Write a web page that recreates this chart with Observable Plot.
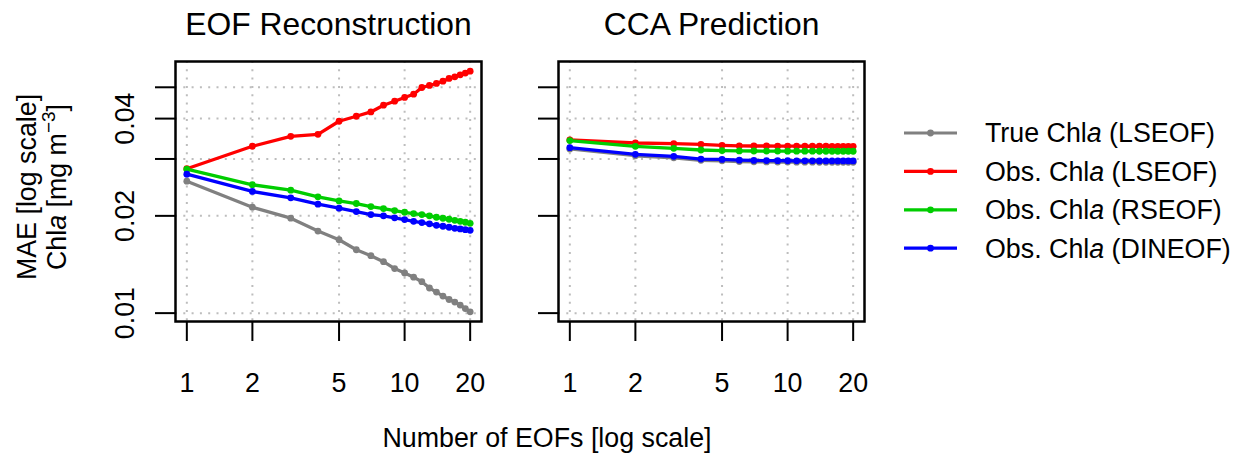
<!DOCTYPE html>
<html>
<head>
<meta charset="utf-8">
<script src="https://cdn.jsdelivr.net/npm/d3@7"></script>
<script src="https://cdn.jsdelivr.net/npm/@observablehq/plot@0.6"></script>
<style>
  html, body { margin: 0; padding: 0; background: #fff; }
  #chart { width: 1243px; height: 458px; }
</style>
</head>
<body>
<div id="chart"></div>
<script>
// ---------------- data ----------------
const nEOFs = [1, 2, 3, 4, 5, 6, 7, 8, 9, 10, 11, 12, 13, 14, 15, 16, 17, 18, 19, 20];
const panels = ["EOF Reconstruction", "CCA Prediction"];
const seriesNames = ["True Chla (LSEOF)", "Obs. Chla (LSEOF)", "Obs. Chla (RSEOF)", "Obs. Chla (DINEOF)"];
const seriesColors = ["#808080", "#FF0000", "#00CD00", "#0000FF"];
const xTicks = [1, 2, 5, 10, 20];
const yTicks = [0.01, 0.02, 0.03, 0.04, 0.05];
const yTickLabels = [0.01, 0.02, 0.04];

// EOF Reconstruction panel
const eofTrueLSEOF   = [0.02561, 0.02127, 0.01967, 0.01795, 0.01687, 0.01571, 0.01506, 0.01443, 0.01374, 0.01331, 0.01292, 0.01251, 0.01196, 0.01162, 0.01129, 0.01102, 0.01082, 0.01059, 0.01033, 0.01009];
const eofObsLSEOF    = [0.02798, 0.03284, 0.03526, 0.03577, 0.03925, 0.04067, 0.04194, 0.04400, 0.04528, 0.04650, 0.04760, 0.04993, 0.05065, 0.05138, 0.05224, 0.05326, 0.05387, 0.05465, 0.05532, 0.05610];
const eofObsRSEOF    = [0.02790, 0.02496, 0.02402, 0.02291, 0.02225, 0.02184, 0.02137, 0.02107, 0.02077, 0.02052, 0.02033, 0.02019, 0.02000, 0.01980, 0.01966, 0.01952, 0.01938, 0.01924, 0.01911, 0.01897];
const eofObsDINEOF   = [0.02692, 0.02380, 0.02275, 0.02173, 0.02112, 0.02062, 0.02019, 0.02000, 0.01972, 0.01948, 0.01924, 0.01906, 0.01889, 0.01870, 0.01857, 0.01844, 0.01830, 0.01822, 0.01813, 0.01804];

// CCA Prediction panel
const ccaTrueLSEOF   = [0.03222, 0.03070, 0.03026, 0.02970, 0.02962, 0.02946, 0.02940, 0.02937, 0.02935, 0.02934, 0.02933, 0.02932, 0.02932, 0.02931, 0.02931, 0.02931, 0.02930, 0.02930, 0.02930, 0.02930];
const ccaObsLSEOF    = [0.03434, 0.03361, 0.03347, 0.03330, 0.03306, 0.03295, 0.03290, 0.03290, 0.03288, 0.03287, 0.03286, 0.03285, 0.03285, 0.03284, 0.03284, 0.03283, 0.03283, 0.03283, 0.03282, 0.03282];
const ccaObsRSEOF    = [0.03420, 0.03283, 0.03236, 0.03198, 0.03184, 0.03177, 0.03175, 0.03174, 0.03173, 0.03172, 0.03172, 0.03171, 0.03171, 0.03170, 0.03170, 0.03170, 0.03169, 0.03169, 0.03169, 0.03169];
const ccaObsDINEOF   = [0.03252, 0.03100, 0.03056, 0.02998, 0.02991, 0.02975, 0.02968, 0.02965, 0.02963, 0.02962, 0.02961, 0.02960, 0.02960, 0.02959, 0.02959, 0.02959, 0.02958, 0.02958, 0.02958, 0.02958];

const xLabel = "Number of EOFs [log scale]";
const yLabel1 = "MAE [log scale]";

// ---------------- build table ----------------
const panelSeries = [
  [eofTrueLSEOF, eofObsLSEOF, eofObsRSEOF, eofObsDINEOF],
  [ccaTrueLSEOF, ccaObsLSEOF, ccaObsRSEOF, ccaObsDINEOF]
];
const rows = [];
panelSeries.forEach((set, p) => set.forEach((vals, s) => vals.forEach((v, i) =>
  rows.push({panel: panels[p], series: seriesNames[s], n: nEOFs[i], value: v}))));

// ---------------- layout ----------------
const FONT = "'Liberation Sans', Arial, Helvetica, sans-serif";
const FS = 26.8;
const W = 1243, H = 458;
const ML = 174, MR = 378, MT = 61, MB = 137;
const logExpand = ([a, b]) => {
  const la = Math.log10(a), lb = Math.log10(b), d = (lb - la) * 0.04;
  return [10 ** (la - d), 10 ** (lb + d)];
};
const gridStyle = {stroke: "#bdbdbd", strokeOpacity: 1, strokeWidth: 2, strokeDasharray: "2,6.3"};

const seriesMarks = seriesNames.flatMap((name, s) => {
  const sub = rows.filter(d => d.series === name);
  return [
    Plot.line(sub, {fx: "panel", x: "n", y: "value", stroke: seriesColors[s], strokeWidth: 3.3}),
    Plot.dot(sub, {fx: "panel", x: "n", y: "value", fill: seriesColors[s], r: 3.4})
  ];
});

const svg = Plot.plot({
  width: W, height: H,
  marginLeft: ML, marginRight: MR, marginTop: MT, marginBottom: MB,
  style: {fontFamily: FONT, fontSize: FS + "px", color: "black", background: "white", overflow: "visible"},
  fx: {domain: panels, paddingInner: 0.2, paddingOuter: 0, label: null},
  x: {type: "log", domain: logExpand(d3.extent(nEOFs))},
  y: {type: "log", domain: logExpand(d3.extent(rows, d => d.value))},
  marks: [
    Plot.gridX(xTicks, gridStyle),
    Plot.gridY(yTicks, gridStyle),
    ...seriesMarks,
    Plot.frame({stroke: "black", strokeWidth: 2.5}),
    Plot.axisX(xTicks, {ticks: 1000, tickSize: 20, tickPadding: 31, fontSize: FS, label: null, strokeWidth: 2, tickFormat: d => String(d)}),
    Plot.axisY(yTicks, {tickSize: 20, tickFormat: () => "", label: null, facetAnchor: null, strokeWidth: 2}),
    Plot.axisY(yTickLabels, {ticks: 1000, tickSize: 0, tickPadding: 42, tickRotate: -90, label: null, fontSize: FS, tickFormat: d => String(d)}),
    Plot.axisFx({anchor: "top", tickSize: 0, tickPadding: 27, label: null, fontSize: 31.8})
  ]
});

// ---------------- annotations: axis titles & legend ----------------
const root = d3.select(svg).append("g")
  .attr("font-family", FONT).attr("font-size", FS).attr("fill", "black").attr("text-anchor", "start");

// x-axis title
root.append("text").attr("x", 547).attr("y", 447).attr("text-anchor", "middle").text(xLabel);

// y-axis title (two lines)
const yc = 187;
root.append("text").attr("transform", `translate(36,${yc}) rotate(-90)`).attr("text-anchor", "middle").text(yLabel1);
const t2 = root.append("text").attr("transform", `translate(66,${yc}) rotate(-90)`).attr("text-anchor", "middle");
t2.append("tspan").text("Chl");
t2.append("tspan").attr("font-style", "italic").text("a");
t2.append("tspan").text(" [mg m");
t2.append("tspan").attr("dy", -11).attr("font-size", 19).text("\u22123");
t2.append("tspan").attr("dy", 11).text("]");

// legend
const legTop = 133, legStep = 38.4;
const lg = root.append("g");
seriesNames.forEach((name, i) => {
  const y = legTop + i * legStep;
  lg.append("line").attr("x1", 904).attr("x2", 957).attr("y1", y).attr("y2", y)
    .attr("stroke", seriesColors[i]).attr("stroke-width", 3.2);
  lg.append("circle").attr("cx", 930.5).attr("cy", y).attr("r", 3.4).attr("fill", seriesColors[i]);
  const t = lg.append("text").attr("x", 985).attr("y", y).attr("dy", "0.35em").attr("text-anchor", "start");
  const k = name.indexOf("Chla");
  t.append("tspan").text(name.slice(0, k + 3));
  t.append("tspan").attr("font-style", "italic").text("a");
  t.append("tspan").text(name.slice(k + 4));
});

document.getElementById("chart").appendChild(svg);
</script>
</body>
</html>
